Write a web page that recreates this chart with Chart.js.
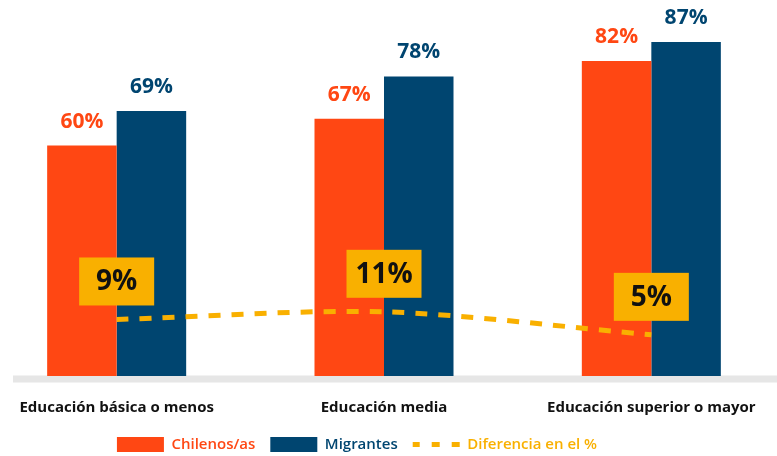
<!DOCTYPE html>
<html>
<head>
<meta charset="utf-8">
<script src="https://cdn.jsdelivr.net/npm/chart.js@4.4.1/dist/chart.umd.min.js"></script>
<style>
  html, body { margin: 0; padding: 0; background: #fff; overflow: hidden; }
  #wrap { position: absolute; left: -17px; top: 0; width: 802px; height: 456px; }
</style>
</head>
<body>
<div id="wrap"><canvas id="chart"></canvas></div>
<script>
const categories = ["Educación básica o menos", "Educación media", "Educación superior o mayor"];
const chilenos = [60, 67, 82];
const migrantes = [69, 78, 87];
const diferencia = [9, 11, 5];

const ORANGE = "#FF4713";
const BLUE = "#004570";
const YELLOW = "#F9B000";
const GRAY = "#E6E6E6";

Chart.defaults.font.family = "'Open Sans', sans-serif";

// thick grey base line, starts a little in from the left edge
const baseLine = {
  id: "baseLine",
  beforeDatasetsDraw(chart) {
    const { ctx, chartArea } = chart;
    ctx.save();
    ctx.fillStyle = GRAY;
    ctx.fillRect(chartArea.left + 30, chartArea.bottom - 3.5, chartArea.right - chartArea.left - 30, 7);
    ctx.restore();
  }
};

// value labels over the bars and the yellow boxes over the line
const valueLabels = {
  id: "valueLabels",
  afterDatasetsDraw(chart) {
    const ctx = chart.ctx;
    ctx.save();
    ctx.textAlign = "center";
    ctx.textBaseline = "middle";
    chart.data.datasets.forEach((ds, i) => {
      const meta = chart.getDatasetMeta(i);
      meta.data.forEach((el, j) => {
        if (ds.type === "line") {
          const w = 75, h = 48;
          const cy = el.y - 38;
          ctx.fillStyle = YELLOW;
          ctx.fillRect(el.x - w / 2, cy - h / 2, w, h);
          ctx.fillStyle = "#111";
          ctx.font = "bold 28px 'Open Sans'";
          ctx.fillText(ds.data[j] + "%", el.x, cy + 1);
        } else {
          ctx.fillStyle = ds.backgroundColor;
          ctx.font = "bold 21px 'Open Sans'";
          ctx.fillText(ds.data[j] + "%", el.x, el.y - 24);
        }
      });
    });
    ctx.restore();
  }
};

// legend sits left of the canvas centre and a bit higher than the layout puts it
const legendShift = {
  id: "legendShift",
  afterLayout(chart) {
    const l = chart.legend;
    l.left -= 27;
    l.right -= 27;
    l.top -= 15;
    l.bottom -= 15;
  }
};

new Chart(document.getElementById("chart"), {
  type: "bar",
  data: {
    labels: categories,
    datasets: [
      {
        type: "line",
        label: "Diferencia en el %",
        data: diferencia,
        yAxisID: "y1",
        borderColor: YELLOW,
        borderWidth: 5,
        borderDash: [12, 11],
        pointRadius: 0,
        tension: 0.3,
        fill: false,
        order: 0
      },
      {
        label: "Chilenos/as",
        data: chilenos,
        backgroundColor: ORANGE,
        yAxisID: "y",
        order: 1
      },
      {
        label: "Migrantes",
        data: migrantes,
        backgroundColor: BLUE,
        yAxisID: "y",
        order: 1
      }
    ]
  },
  options: {
    responsive: true,
    maintainAspectRatio: false,
    animation: false,
    devicePixelRatio: 1,
    categoryPercentage: 0.52,
    barPercentage: 1.0,
    layout: { padding: { top: 11, bottom: -21, left: 0, right: 0 } },
    plugins: {
      tooltip: { enabled: false },
      legend: {
        position: "bottom",
        labels: {
          usePointStyle: true,
          pointStyleWidth: 47,
          boxHeight: 15,
          padding: 15,
          font: { size: 15, weight: "600" },
          generateLabels: () => [
            { text: "Chilenos/as", fillStyle: ORANGE, strokeStyle: ORANGE, lineWidth: 0, fontColor: ORANGE, pointStyle: "rect", datasetIndex: 1 },
            { text: "Migrantes", fillStyle: BLUE, strokeStyle: BLUE, lineWidth: 0, fontColor: BLUE, pointStyle: "rect", datasetIndex: 2 },
            { text: "Diferencia en el %", fillStyle: "rgba(0,0,0,0)", strokeStyle: YELLOW, lineWidth: 5, lineDash: [8, 12], lineDashOffset: 1, fontColor: YELLOW, pointStyle: "line", datasetIndex: 0 }
          ]
        }
      }
    },
    scales: {
      x: {
        grid: { display: false, drawTicks: false },
        border: { display: false },
        ticks: {
          color: "#111",
          padding: 11,
          maxRotation: 0,
          autoSkip: false,
          font: { size: 15, weight: "bold", lineHeight: 2.4 }
        }
      },
      y: { display: false, min: -0.78, max: 95.05 },
      y1: { display: false, min: -6.5, max: 89.33 }
    }
  },
  plugins: [baseLine, valueLabels, legendShift]
});
</script>
</body>
</html>
